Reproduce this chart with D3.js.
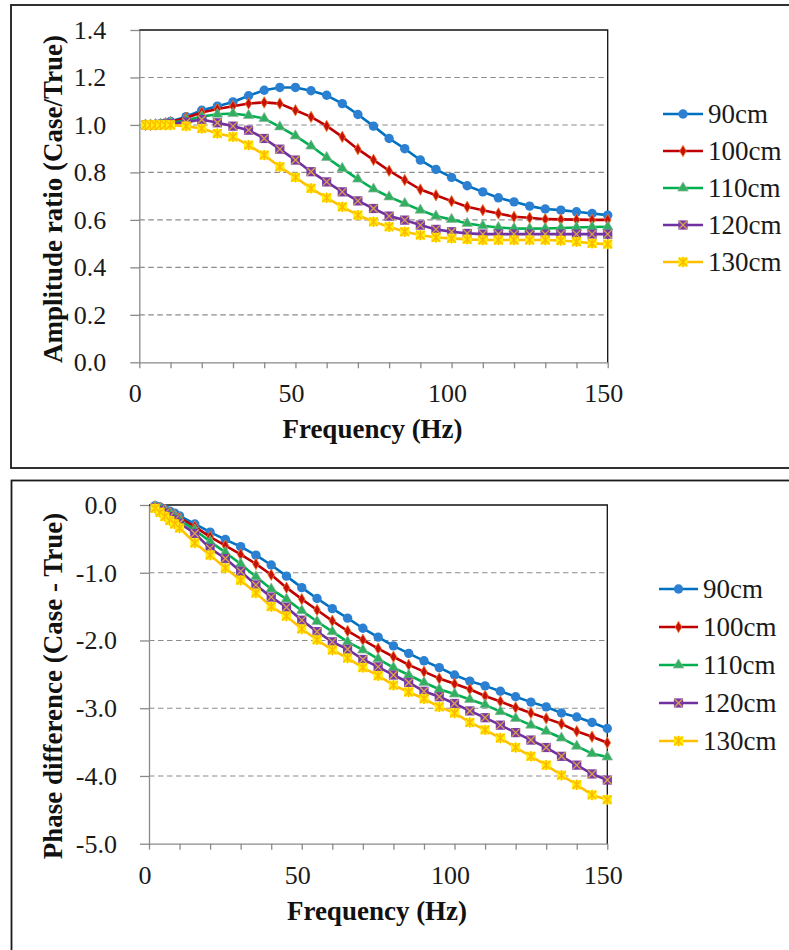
<!DOCTYPE html>
<html>
<head>
<meta charset="utf-8">
<script src="https://cdn.jsdelivr.net/npm/d3@7"></script>
<style>
  body { margin: 0; background: #fff; }
  svg { display: block; }
</style>
</head>
<body>
<svg id="chart" width="789" height="950"></svg>
<script>
// frequencies (Hz) shared by all series
const freq = [2, 3.6, 5.2, 6.8, 8.4, 10, 15, 20, 25, 30, 35, 40, 45, 50, 55, 60, 65, 70, 75,
  80, 85, 90, 95, 100, 105, 110, 115, 120, 125, 130, 135, 140, 145, 150]

const seriesNames = ['90cm', '100cm', '110cm', '120cm', '130cm']

// amplitude ratio (Case/True)
const amp90 = [1.0, 1.0, 1.002, 1.005, 1.008, 1.015, 1.035, 1.062, 1.079, 1.097, 1.123, 1.146, 1.158, 1.158,
  1.144, 1.125, 1.09, 1.044, 0.995, 0.943, 0.9, 0.852, 0.813, 0.779, 0.744, 0.718, 0.693, 0.676,
  0.658, 0.646, 0.641, 0.634, 0.627, 0.62]
const amp100 = [1.0, 1.0, 1.002, 1.004, 1.007, 1.012, 1.03, 1.052, 1.067, 1.079, 1.09, 1.095, 1.09, 1.062,
  1.034, 0.996, 0.95, 0.898, 0.853, 0.807, 0.768, 0.728, 0.704, 0.679, 0.655, 0.641, 0.627, 0.613,
  0.609, 0.603, 0.602, 0.601, 0.6, 0.6]
const amp110 = [1.0, 1.0, 1.001, 1.003, 1.005, 1.008, 1.02, 1.035, 1.045, 1.048, 1.04, 1.027, 0.992, 0.954,
  0.911, 0.863, 0.817, 0.772, 0.73, 0.697, 0.669, 0.641, 0.616, 0.602, 0.585, 0.575, 0.568, 0.564,
  0.563, 0.564, 0.566, 0.568, 0.57, 0.571]
const amp120 = [1.0, 1.0, 1.0, 1.002, 1.003, 1.005, 1.012, 1.023, 1.009, 0.995, 0.978, 0.943, 0.898, 0.852,
  0.803, 0.76, 0.718, 0.68, 0.648, 0.616, 0.599, 0.578, 0.56, 0.55, 0.543, 0.54, 0.54, 0.54,
  0.54, 0.54, 0.54, 0.54, 0.54, 0.54]
const amp130 = [1.0, 1.0, 1.0, 1.0, 1.0, 1.0, 0.995, 0.985, 0.964, 0.95, 0.915, 0.873, 0.824, 0.779,
  0.733, 0.693, 0.655, 0.62, 0.592, 0.571, 0.55, 0.536, 0.526, 0.522, 0.518, 0.515, 0.515, 0.515,
  0.515, 0.515, 0.513, 0.508, 0.501, 0.498]

// phase difference (Case - True)
const phase90 = [-0.01, -0.03, -0.06, -0.09, -0.12, -0.16, -0.28, -0.4, -0.51, -0.615, -0.74, -0.886, -1.05, -1.22,
  -1.38, -1.53, -1.67, -1.82, -1.95, -2.08, -2.19, -2.3, -2.4, -2.51, -2.6, -2.67, -2.75, -2.83,
  -2.91, -2.98, -3.07, -3.13, -3.21, -3.3]
const phase100 = [-0.02, -0.04, -0.07, -0.11, -0.15, -0.19, -0.32, -0.47, -0.6, -0.73, -0.87, -1.03, -1.22, -1.39,
  -1.55, -1.71, -1.86, -1.99, -2.12, -2.24, -2.36, -2.46, -2.56, -2.64, -2.72, -2.82, -2.9, -2.99,
  -3.07, -3.15, -3.23, -3.34, -3.42, -3.51]
const phase110 = [-0.03, -0.06, -0.09, -0.13, -0.17, -0.22, -0.37, -0.54, -0.7, -0.87, -1.06, -1.24, -1.39, -1.56,
  -1.72, -1.87, -2.02, -2.14, -2.27, -2.4, -2.51, -2.62, -2.72, -2.79, -2.87, -2.95, -3.05, -3.15,
  -3.25, -3.34, -3.44, -3.56, -3.67, -3.72]
const phase120 = [-0.04, -0.08, -0.12, -0.17, -0.22, -0.27, -0.42, -0.64, -0.79, -0.98, -1.18, -1.36, -1.51, -1.7,
  -1.87, -2.02, -2.13, -2.28, -2.39, -2.51, -2.62, -2.75, -2.83, -2.93, -3.04, -3.14, -3.25, -3.36,
  -3.47, -3.58, -3.71, -3.84, -3.97, -4.06]
const phase130 = [-0.05, -0.11, -0.17, -0.23, -0.28, -0.34, -0.56, -0.74, -0.93, -1.11, -1.3, -1.5, -1.64, -1.83,
  -1.99, -2.14, -2.26, -2.4, -2.52, -2.66, -2.76, -2.86, -2.98, -3.07, -3.21, -3.32, -3.44, -3.58,
  -3.71, -3.84, -3.99, -4.13, -4.28, -4.35]

const freqTicks = [0, 10, 20, 30, 40, 50, 60, 70, 80, 90, 100, 110, 120, 130, 140, 150]
const freqLabels = [0, 50, 100, 150]
const ampTicks = [0, 0.2, 0.4, 0.6, 0.8, 1.0, 1.2, 1.4]
const phaseTicks = [0, -1, -2, -3, -4, -5]

const styles = [
  { line: '#0070C0', marker: 'circle', fill: '#2B80D2', edge: '#2B80D2' },
  { line: '#C00000', marker: 'diamond', fill: '#C8100A', edge: '#F07A2A' },
  { line: '#00B050', marker: 'triangle', fill: '#2FAF5F', edge: '#8FB59B' },
  { line: '#7030A0', marker: 'xsquare', fill: '#7A3AA6', edge: '#D9A24A' },
  { line: '#FFC000', marker: 'star', fill: '#FFF000', edge: '#FFB800' },
]

const svg = d3.select('#chart')
const FONT = 'Liberation Serif'

function addMarker(g, st) {
  switch (st.marker) {
    case 'circle':
      g.append('circle').attr('r', 4.7).attr('fill', st.fill)
      break
    case 'diamond':
      g.append('path').attr('d', d3.symbol(d3.symbolDiamond, 38)())
        .attr('fill', st.fill).attr('stroke', st.edge).attr('stroke-width', 0.8)
      break
    case 'triangle':
      g.append('path').attr('d', d3.symbol(d3.symbolTriangle, 48)())
        .attr('fill', st.fill).attr('stroke', st.edge).attr('stroke-width', 0.7)
      break
    case 'xsquare':
      g.append('rect').attr('x', -4.6).attr('y', -4.6).attr('width', 9.2).attr('height', 9.2)
        .attr('fill', st.fill)
      g.append('path').attr('d', 'M-4,-4L4,4M-4,4L4,-4')
        .attr('stroke', st.edge).attr('stroke-width', 1.3).attr('fill', 'none')
      break
    case 'star':
      g.append('rect').attr('x', -4.6).attr('y', -4.6).attr('width', 9.2).attr('height', 9.2)
        .attr('fill', st.fill)
      g.append('path').attr('d', 'M-4.2,-4.2L4.2,4.2M-4.2,4.2L4.2,-4.2M0,-5.2V5.2')
        .attr('stroke', st.edge).attr('stroke-width', 1.4).attr('fill', 'none')
      break
  }
}

function drawPanel(cfg) {
  // outer frame of the panel
  svg.append('rect')
    .attr('x', cfg.frame[0]).attr('y', cfg.frame[1])
    .attr('width', cfg.frame[2]).attr('height', cfg.frame[3])
    .attr('fill', 'none').attr('stroke', '#1a1a1a').attr('stroke-width', 1.8)

  const x = d3.scaleLinear().domain([0, 150]).range([cfg.left, cfg.right])
  const y = d3.scaleLinear().domain(cfg.yDomain).range([cfg.bottom, cfg.top])
  const yMin = cfg.yDomain[0]
  const yMax = cfg.yDomain[1]

  // dashed gridlines
  svg.append('g')
    .selectAll('line')
    .data(cfg.yTicks.filter(d => d !== yMin && d !== yMax))
    .join('line')
    .attr('x1', cfg.left).attr('x2', cfg.right)
    .attr('y1', d => y(d)).attr('y2', d => y(d))
    .attr('stroke', '#8c8c8c').attr('stroke-width', 1.1)
    .attr('stroke-dasharray', '5.5,3.5')

  const xAxis = svg.append('g')
    .attr('transform', `translate(0,${cfg.bottom})`)
    .call(d3.axisBottom(x).tickValues(freqTicks).tickSize(6).tickSizeOuter(0).tickFormat(''))
  const yAxis = svg.append('g')
    .attr('transform', `translate(${cfg.left},0)`)
    .call(d3.axisLeft(y).tickValues(cfg.yTicks).tickSize(9).tickSizeOuter(0)
      .tickPadding(cfg.yPad).tickFormat(d => d.toFixed(1)))
  for (const ax of [xAxis, yAxis]) {
    ax.attr('font-family', FONT)
    ax.selectAll('.domain, .tick line').attr('stroke', '#8a8a8a').attr('stroke-width', 1.3)
  }
  yAxis.selectAll('.tick text')
    .attr('font-size', 26)
    .attr('fill', '#1a1a1a')

  // x tick labels only every 50 Hz
  svg.append('g')
    .attr('font-family', FONT)
    .selectAll('text')
    .data(freqLabels)
    .join('text')
    .attr('x', d => x(d) - 4)
    .attr('y', cfg.bottom + cfg.xLabelDy)
    .attr('text-anchor', 'middle')
    .attr('font-size', 26)
    .attr('fill', '#1a1a1a')
    .text(d => d)

  // plot area border (top / right)
  svg.append('path')
    .attr('d', `M${cfg.left},${cfg.top}H${cfg.right}V${cfg.bottom}`)
    .attr('fill', 'none').attr('stroke', '#111').attr('stroke-width', 1.3)

  // titles
  svg.append('text')
    .attr('x', cfg.xTitle[0]).attr('y', cfg.xTitle[1])
    .attr('text-anchor', 'middle')
    .attr('font-family', FONT).attr('fill', '#111')
    .attr('font-size', 27).attr('font-weight', 'bold')
    .text('Frequency (Hz)')
  svg.append('text')
    .attr('transform', `translate(${cfg.yTitle[0]},${cfg.yTitle[1]}) rotate(-90)`)
    .attr('text-anchor', 'middle')
    .attr('font-family', FONT).attr('fill', '#111')
    .attr('font-size', 27).attr('font-weight', 'bold')
    .text(cfg.yLabel)

  const line = d3.line().x(d => x(d[0])).y(d => y(d[1]))

  cfg.series.forEach((vals, i) => {
    const st = styles[i]
    const pts = freq.map((f, k) => [f, vals[k]])
    const g = svg.append('g')
    g.append('path')
      .attr('d', line(pts))
      .attr('fill', 'none').attr('stroke', st.line).attr('stroke-width', 2.6)
      .attr('stroke-linejoin', 'round')
    g.selectAll('g.mk')
      .data(pts)
      .join('g')
      .attr('class', 'mk')
      .attr('transform', d => `translate(${x(d[0])},${y(d[1])})`)
      .each(function () { addMarker(d3.select(this), st) })
  })

  // legend
  const leg = svg.append('g').attr('font-family', FONT)
  seriesNames.forEach((name, i) => {
    const st = styles[i]
    const ly = cfg.legend.y0 + i * cfg.legend.dy
    leg.append('line')
      .attr('x1', cfg.legend.x1).attr('x2', cfg.legend.x2)
      .attr('y1', ly).attr('y2', ly)
      .attr('stroke', st.line).attr('stroke-width', 2.6)
    const mg = leg.append('g')
      .attr('transform', `translate(${(cfg.legend.x1 + cfg.legend.x2) / 2},${ly})`)
    addMarker(mg, st)
    leg.append('text')
      .attr('x', cfg.legend.tx).attr('y', ly + 9)
      .attr('fill', '#1a1a1a')
      .attr('font-size', 27)
      .text(name)
  })
}

drawPanel({
  frame: [11, 5, 800, 463],
  left: 139.3, right: 607.7, top: 30, bottom: 362.3,
  yDomain: [0, 1.4], yTicks: ampTicks, yPad: 24,
  xLabelDy: 39.5,
  xTitle: [372.5, 438], yTitle: [62, 199],
  yLabel: 'Amplitude ratio (Case/True)',
  series: [amp90, amp100, amp110, amp120, amp130],
  legend: { x1: 663, x2: 703, tx: 708, y0: 114, dy: 37 },
})

drawPanel({
  frame: [11.5, 480.5, 800, 500],
  left: 149, right: 607.3, top: 505, bottom: 843.7,
  yDomain: [-5, 0], yTicks: phaseTicks, yPad: 23,
  xLabelDy: 40.5,
  xTitle: [377, 920], yTitle: [62, 686],
  yLabel: 'Phase difference (Case - True)',
  series: [phase90, phase100, phase110, phase120, phase130],
  legend: { x1: 659, x2: 698, tx: 703, y0: 589, dy: 38 },
})
</script>
</body>
</html>
